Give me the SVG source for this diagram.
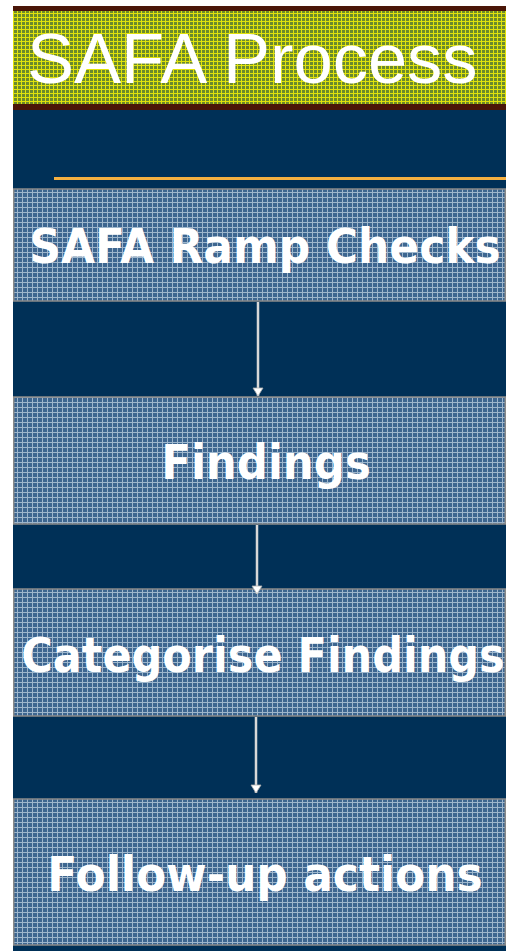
<svg xmlns="http://www.w3.org/2000/svg" width="506" height="951" viewBox="0 0 506 951">
<defs>
<pattern id="green" width="4" height="4" patternUnits="userSpaceOnUse">
<rect width="4" height="4" fill="#6b8a2c"/>
<rect x="0" y="1" width="4" height="1" fill="#e0e20c"/>
<rect x="1" y="0" width="1" height="4" fill="#e0e20c"/>
</pattern>
<pattern id="blue" width="5" height="5" patternUnits="userSpaceOnUse">
<rect width="5" height="5" fill="#3d6690"/>
<rect x="0" y="2" width="5" height="1" fill="#9db6cc"/>
<rect x="2" y="0" width="1" height="5" fill="#9db6cc"/>
</pattern>
<marker id="ah" markerWidth="10" markerHeight="12" refX="9" refY="6" orient="auto" markerUnits="userSpaceOnUse" viewBox="0 0 10 12">
<path d="M1,1 L9,6 L1,11 Z" fill="#ffffff" stroke="#b0b0b0" stroke-width="0.8"/>
</marker>
</defs>
<style>
.box{fill:url(#blue);stroke:#8a8a8a;stroke-width:1.5}
.lbl{font-family:"DejaVu Sans",Verdana,sans-serif;font-weight:bold;fill:#ffffff;text-anchor:middle}
.conn{stroke:#d8d8d8;stroke-width:2.5;fill:none}
</style>
<rect x="0" y="0" width="506" height="951" fill="#ffffff"/>
<rect x="13" y="6" width="493" height="945" fill="#003057"/>
<g id="title">
<rect x="13" y="6" width="493" height="5" fill="#4a1608"/>
<rect x="13" y="11" width="493" height="93" fill="url(#green)"/>
<rect x="13" y="104" width="493" height="6" fill="#4a1608"/>
<text x="27" y="83" font-family="Liberation Sans,Arial,sans-serif" font-size="70.5" fill="#ffffff">SAFA Process</text>
</g>
<rect id="rule" x="54" y="177" width="452" height="3" fill="#f5b041"/>
<g id="n1">
<rect class="box" x="13.75" y="189" width="491.5" height="112"/>
<text class="lbl" transform="translate(265,263) scale(1,1.1)" font-size="44">SAFA Ramp Checks</text>
</g>
<g id="n2">
<rect class="box" x="13.75" y="397" width="491.5" height="127"/>
<text class="lbl" transform="translate(266,479) scale(1,1.1)" font-size="43.5">Findings</text>
</g>
<g id="n3">
<rect class="box" x="13.75" y="589" width="491.5" height="127"/>
<text class="lbl" transform="translate(263,672) scale(1,1.1)" font-size="43">Categorise Findings</text>
</g>
<g id="n4">
<rect class="box" x="13.75" y="799" width="491.5" height="146"/>
<text class="lbl" transform="translate(265,891) scale(1,1.1)" font-size="44">Follow-up actions</text>
</g>
<g id="connectors">
<line class="conn" x1="258" y1="302" x2="258" y2="396" marker-end="url(#ah)"/>
<line class="conn" x1="257" y1="525" x2="257" y2="594" marker-end="url(#ah)"/>
<line class="conn" x1="256" y1="717" x2="256" y2="793" marker-end="url(#ah)"/>
</g>
</svg>
